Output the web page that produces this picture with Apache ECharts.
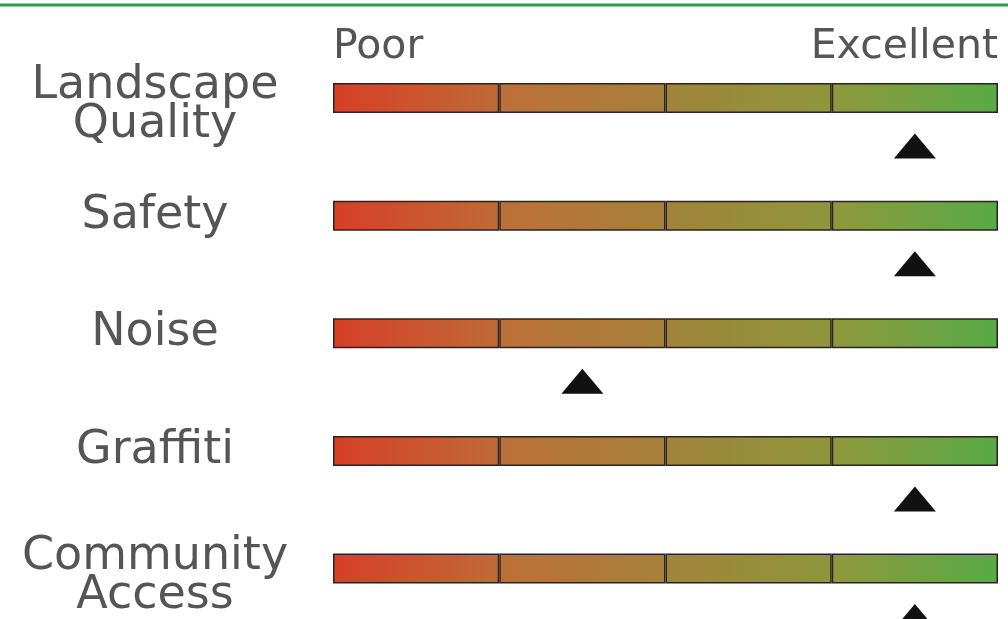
<!DOCTYPE html>
<html><head><meta charset="utf-8">
<script src="https://cdn.jsdelivr.net/npm/echarts@6/dist/echarts.min.js"></script>
<style>html,body{margin:0;padding:0;background:#fff}#c{width:1008px;height:619px}</style>
</head><body><div id="c"></div>
<script>
// ---- data ----
const categories = ['Landscape\nQuality', 'Safety', 'Noise', 'Graffiti', 'Community\nAccess'];
const ratings = [3.5, 3.5, 1.5, 3.5, 3.5];          // marker position on a 0 (Poor) .. 4 (Excellent) scale
const scaleLabels = ['Poor', 'Excellent'];
const bandSizes = [1, 1, 1, 1];                     // four equal rating bands
const bandColors = [
  ['#d63f27', '#c06a36'],
  ['#bd6f38', '#a5813a'],
  ['#a1843a', '#8e963b'],
  ['#8f983b', '#58aa47']
];

const chart = echarts.init(document.getElementById('c'), null, {renderer: 'canvas'});
const FONT = '"DejaVu Sans"';

const series = bandSizes.map((size, i) => ({
  type: 'bar',
  stack: 'scale',
  barWidth: 30,
  clip: false,
  silent: true,
  data: categories.map(() => size),
  itemStyle: {
    color: new echarts.graphic.LinearGradient(0, 0, 1, 0, [
      {offset: 0, color: bandColors[i][0]},
      {offset: 1, color: bandColors[i][1]}
    ]),
    borderColor: '#2b2420',
    borderWidth: 1.5
  }
}));

series.push({
  type: 'scatter',
  symbol: 'triangle',
  symbolSize: [42, 25],
  symbolOffset: [0, 48],
  clip: false,
  z: 10,
  itemStyle: {color: '#111111', opacity: 1},
  data: ratings.map((v, i) => [v, categories[i]])
});

const labelStyle = {fontSize: 46, color: '#555555', fontFamily: FONT};

chart.setOption({
  animation: false,
  backgroundColor: '#ffffff',
  graphic: [{
    type: 'rect',
    shape: {x: 0, y: 3.5, width: 1008, height: 3},
    style: {fill: '#2f9e44'}
  }],
  grid: {left: 333, right: 10, top: 98, bottom: 50, containLabel: false},
  xAxis: {
    type: 'value', min: 0, max: 4, interval: 4, position: 'top',
    axisLine: {show: false}, axisTick: {show: false}, splitLine: {show: false},
    axisLabel: {
      formatter: v => (v === 0 ? scaleLabels[0] : scaleLabels[1]),
      alignMinLabel: 'left', alignMaxLabel: 'right',
      margin: 30, fontSize: 41, color: '#555555', fontFamily: FONT
    }
  },
  yAxis: {
    type: 'category', data: categories, inverse: true, boundaryGap: false,
    axisLine: {show: false}, axisTick: {show: false}, splitLine: {show: false},
    axisLabel: Object.assign({
      margin: 178, align: 'center', lineHeight: 40,
      formatter: v => {
        const parts = v.split('\n');
        return parts.length > 1 ? '{a|' + parts[0] + '}\n{b|' + parts[1] + '}' : v;
      },
      rich: {
        a: Object.assign({lineHeight: 55}, labelStyle),
        b: Object.assign({lineHeight: 23}, labelStyle)
      }
    }, labelStyle)
  },
  series: series
});
</script></body></html>
